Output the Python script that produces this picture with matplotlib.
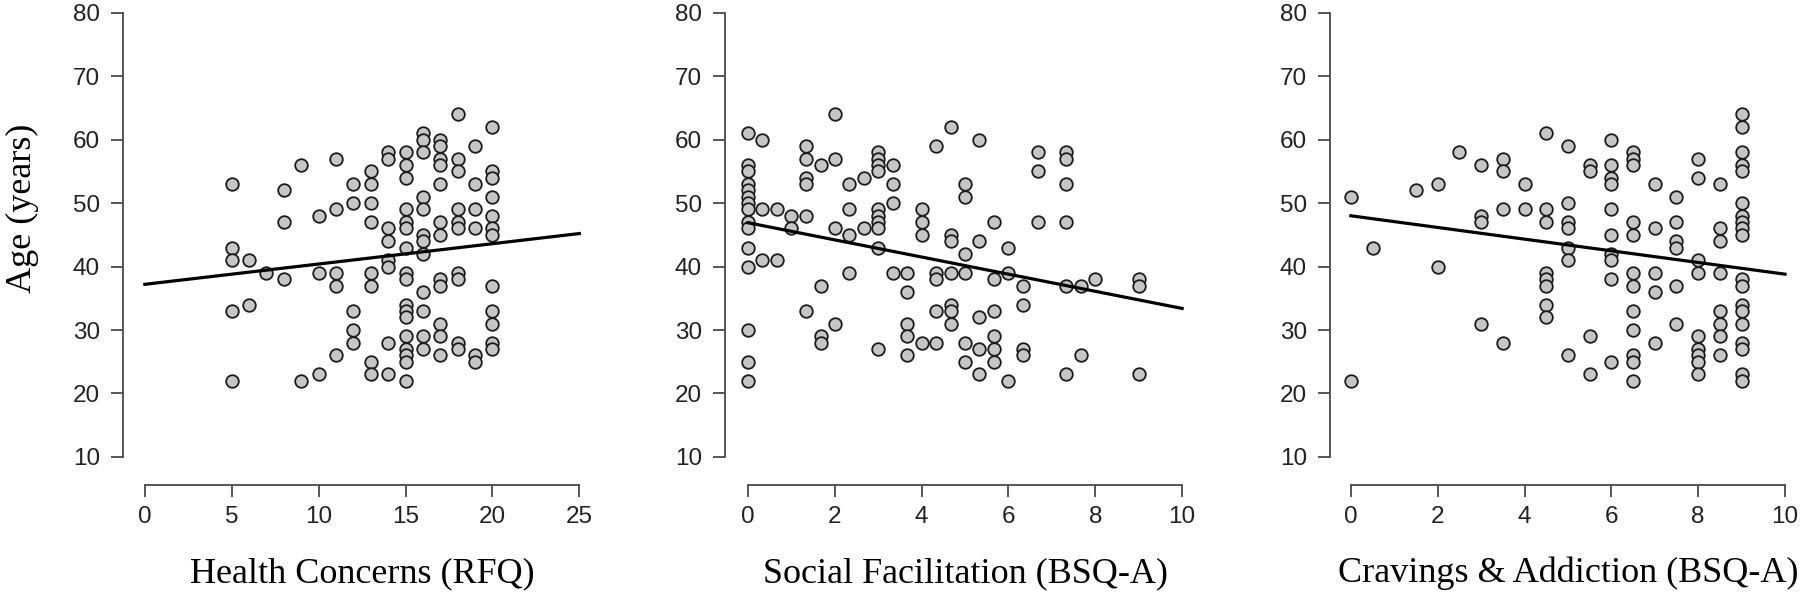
import matplotlib
matplotlib.use('Agg')
import matplotlib.pyplot as plt
import matplotlib.transforms as mtransforms
import numpy as np

# Panel 1: Health Concerns (RFQ) score -> ages in that column
health_cols = [5, 6, 7, 8, 9, 10, 11, 12, 13, 14, 15, 16, 17, 18, 19, 20]
health_ages = [
    [53, 43, 41, 33, 22],
    [41, 34],
    [39],
    [52, 47, 38],
    [56, 22],
    [48, 39, 23],
    [57, 49, 39, 37, 26],
    [53, 50, 33, 30, 28],
    [55, 53, 50, 47, 39, 37, 25, 23],
    [58, 57, 46, 44, 41, 40, 28, 23],
    [58, 56, 54, 49, 47, 46, 43, 39, 38, 34, 33, 32, 29, 27, 26, 25, 22],
    [61, 60, 58, 51, 49, 45, 44, 42, 36, 33, 29, 27],
    [60, 59, 57, 56, 53, 47, 45, 38, 37, 31, 29, 26],
    [64, 57, 55, 49, 47, 46, 39, 38, 28, 27],
    [59, 53, 49, 46, 26, 25],
    [62, 55, 54, 51, 48, 46, 45, 37, 33, 31, 28, 27],
]

# Panel 2: Social Facilitation (BSQ-A)
social_cols = [0, 0.33, 0.67, 1, 1.33, 1.67, 2, 2.33, 2.67, 3, 3.33, 3.67, 4,
               4.33, 4.67, 5, 5.33, 5.67, 6, 6.33, 6.67, 7.33, 7.67, 8, 9]
social_ages = [
    [61, 56, 55, 53, 52, 51, 50, 49, 47, 46, 43, 40, 30, 25, 22],
    [60, 49, 41],
    [49, 41],
    [48, 46],
    [59, 57, 54, 53, 48, 33],
    [56, 37, 29, 28],
    [64, 57, 46, 31],
    [53, 49, 45, 39],
    [54, 46],
    [58, 57, 56, 55, 49, 48, 47, 46, 43, 27],
    [56, 53, 50, 39],
    [39, 36, 31, 29, 26],
    [49, 47, 45, 28],
    [59, 39, 38, 33, 28],
    [62, 45, 44, 39, 34, 33, 31],
    [53, 51, 42, 39, 28, 25],
    [60, 44, 32, 27, 23],
    [47, 38, 33, 29, 27, 25],
    [43, 39, 22],
    [37, 34, 27, 26],
    [58, 55, 47],
    [58, 57, 53, 47, 37, 23],
    [37, 26],
    [38],
    [38, 37, 23],
]

# Panel 3: Cravings & Addiction (BSQ-A)
craving_cols = [0, 0.5, 1.5, 2, 2.5, 3, 3.5, 4, 4.5, 5, 5.5, 6, 6.5, 7, 7.5, 8, 8.5, 9]
craving_ages = [
    [51, 22],
    [43],
    [52],
    [53, 40],
    [58],
    [56, 48, 47, 31],
    [57, 55, 49, 28],
    [53, 49],
    [61, 49, 47, 39, 38, 37, 34, 32],
    [59, 50, 47, 46, 43, 41, 26],
    [56, 55, 29, 23],
    [60, 56, 54, 53, 49, 45, 42, 41, 38, 25],
    [58, 57, 56, 47, 45, 39, 37, 33, 30, 26, 25, 22],
    [53, 46, 39, 36, 28],
    [51, 47, 44, 43, 37, 31],
    [57, 54, 41, 39, 29, 27, 26, 25, 23],
    [53, 46, 44, 39, 33, 31, 29, 26],
    [64, 62, 58, 56, 55, 50, 48, 47, 46, 45, 38, 37, 34, 33, 31, 28, 27, 23, 22],
]

# fitted lines (intercept, slope)
health_fit = (37.2, 0.32)
social_fit = (46.9, -1.35)
craving_fit = (48.0, -0.92)

x_labels = ['Health Concerns (RFQ)', 'Social Facilitation (BSQ-A)', 'Cravings & Addiction (BSQ-A)']
y_label = 'Age (years)'
x_ticks = [[0, 5, 10, 15, 20, 25], [0, 2, 4, 6, 8, 10], [0, 2, 4, 6, 8, 10]]
y_ticks = [10, 20, 30, 40, 50, 60, 70, 80]

panels = [(health_cols, health_ages, health_fit),
          (social_cols, social_ages, social_fit),
          (craving_cols, craving_ages, craving_fit)]

positions = [[0.0683, 0.1835, 0.2661, 0.8165],
             [0.4028, 0.1835, 0.2667, 0.8165],
             [0.7389, 0.1835, 0.2600, 0.8165]]
xlims = [(-1.26, 26.3), (-0.53, 10.53), (-0.48, 10.3)]

sans = ['Liberation Sans', 'DejaVu Sans']
serif = ['Liberation Serif', 'DejaVu Serif']
axis_col = '#4a4a4a'

fig = plt.figure(figsize=(18, 5.94), dpi=100)

for i, (cols, ages, fit) in enumerate(panels):
    ax = fig.add_axes(positions[i])
    xs = []
    ys = []
    for c, a in zip(cols, ages):
        for v in a:
            xs.append(c)
            ys.append(v)
    ax.scatter(xs, ys, s=82, facecolor='#c6c6c6', edgecolor='#1c1c1c', linewidth=1.3, zorder=2)

    xmax = x_ticks[i][-1]
    xl = np.array([0, xmax])
    ax.plot(xl, fit[0] + fit[1] * xl, color='black', linewidth=2.3, zorder=3)

    ax.set_xlim(*xlims[i])
    ax.set_ylim(5.58, 82)
    ax.set_xticks(x_ticks[i])
    ax.set_yticks(y_ticks)
    ax.set_xticklabels([str(t) for t in x_ticks[i]], fontsize=17.5, family=sans, color='#222222')
    ax.set_yticklabels([str(t) for t in y_ticks], fontsize=17.5, family=sans, color='#222222')

    for s in ['top', 'right']:
        ax.spines[s].set_visible(False)
    ax.spines['left'].set_bounds(10, 80)
    ax.spines['bottom'].set_bounds(0, xmax)
    for s in ['left', 'bottom']:
        ax.spines[s].set_color(axis_col)
        ax.spines[s].set_linewidth(1.3)
    ax.tick_params(axis='both', direction='out', length=8.6, width=1.3, color=axis_col)
    ax.tick_params(axis='x', pad=6.5)
    ax.tick_params(axis='y', pad=8)
    ax.patch.set_alpha(0)

    # x label, baseline placed in figure coordinates
    trans = mtransforms.blended_transform_factory(ax.transData, fig.transFigure)
    ax.text(xmax / 2, 1 - 582 / 594, x_labels[i], transform=trans, fontsize=26, family=serif,
            ha='center', va='baseline')

fig.text(31 / 1800, 1 - 208 / 594, y_label, rotation=90, rotation_mode='anchor',
         ha='center', va='baseline', fontsize=26, family=serif)

fig.savefig('out.png', dpi=100)
